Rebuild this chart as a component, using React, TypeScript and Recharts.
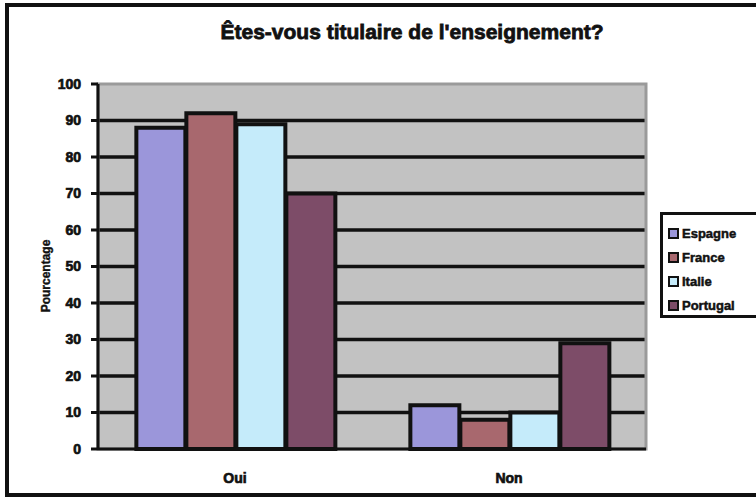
import { Bar, BarChart, CartesianGrid, Legend, ReferenceArea, XAxis, YAxis } from "recharts";

const categories = ["Oui", "Non"];
const espagne = [88, 12];
const france = [92, 8];
const italie = [89, 10];
const portugal = [70, 29];
const yTicks = [0, 10, 20, 30, 40, 50, 60, 70, 80, 90, 100];

const seriesList = [
  { key: "Espagne", values: espagne, color: "#9b96da" },
  { key: "France", values: france, color: "#a8686e" },
  { key: "Italie", values: italie, color: "#c5ebfa" },
  { key: "Portugal", values: portugal, color: "#7d4c68" },
];

const data = categories.map((cat, i) => {
  const row: Record<string, string | number> = { cat };
  seriesList.forEach((s) => {
    row[s.key] = s.values[i];
  });
  return row;
});

const FONT = "'Liberation Sans', Arial, sans-serif";
const heavyTick = {
  fill: "#111",
  stroke: "#111",
  strokeWidth: 0.7,
  fontSize: 14,
  fontWeight: 900,
  fontFamily: FONT,
};

function LegendBox() {
  return (
    <div
      style={{
        position: "absolute",
        left: 660,
        top: 212,
        width: 110,
        height: 106,
        border: "3px solid #111",
        background: "#fff",
        boxSizing: "border-box",
        paddingTop: 6,
        paddingLeft: 5,
      }}
    >
      {seriesList.map((s) => (
        <div
          key={s.key}
          style={{
            display: "flex",
            alignItems: "center",
            height: 24,
            fontFamily: FONT,
            fontWeight: 900,
            fontSize: 13,
            color: "#111",
            WebkitTextStroke: "0.5px #111",
          }}
        >
          <span
            style={{
              display: "inline-block",
              width: 7,
              height: 7,
              background: s.color,
              border: "2px solid #111",
              marginRight: 3,
            }}
          />
          {s.key}
        </div>
      ))}
    </div>
  );
}

export default function App() {
  return (
    <div
      style={{
        position: "absolute",
        left: 0,
        top: 0,
        width: 756,
        height: 502,
        overflow: "hidden",
        background: "#fff",
      }}
    >
      {/* outer frame */}
      <div
        style={{
          position: "absolute",
          left: 5,
          top: 3,
          width: 800,
          height: 494,
          border: "4px solid #111",
          boxSizing: "border-box",
        }}
      />
      <div
        style={{
          position: "absolute",
          left: 0,
          top: 20,
          width: 824,
          textAlign: "center",
          fontFamily: FONT,
          fontWeight: 900,
          fontSize: 21,
          color: "#111",
          WebkitTextStroke: "0.8px #111",
        }}
      >
        Êtes-vous titulaire de l'enseignement?
      </div>
      <div
        style={{
          position: "absolute",
          left: 46,
          top: 276,
          transform: "translate(-50%, -50%) rotate(-90deg)",
          fontFamily: FONT,
          fontWeight: 900,
          fontSize: 12,
          color: "#111",
          whiteSpace: "nowrap",
          WebkitTextStroke: "0.4px #111",
        }}
      >
        Pourcentage
      </div>
      <div style={{ position: "absolute", left: 0, top: 0 }}>
        <BarChart
          width={756}
          height={502}
          data={data}
          margin={{ top: 84, right: 110, left: 38, bottom: 0 }}
          barCategoryGap="14%"
          barGap={1}
        >
          <CartesianGrid
            vertical={false}
            horizontalValues={[10, 20, 30, 40, 50, 60, 70, 80, 90]}
            stroke="#111"
            strokeWidth={3.5}
            fill="#c2c2c2"
            fillOpacity={1}
          />
          <ReferenceArea y1={0} y2={100} fill="none" stroke="#9a9a9a" strokeWidth={3} />
          <XAxis
            dataKey="cat"
            height={53}
            axisLine={{ stroke: "#111", strokeWidth: 3 }}
            tickLine={false}
            tick={heavyTick}
            dy={16}
          />
          <YAxis
            width={60}
            domain={[0, 100]}
            ticks={yTicks}
            interval={0}
            axisLine={{ stroke: "#111", strokeWidth: 3 }}
            tickLine={{ stroke: "#111", strokeWidth: 3 }}
            tickSize={7}
            tick={heavyTick}
            dx={-8}
          />
          <Legend content={() => null} />
          {seriesList.map((s) => (
            <Bar
              key={s.key}
              dataKey={s.key}
              fill={s.color}
              stroke="#111"
              strokeWidth={4}
              isAnimationActive={false}
            />
          ))}
        </BarChart>
      </div>
      <LegendBox />
    </div>
  );
}
